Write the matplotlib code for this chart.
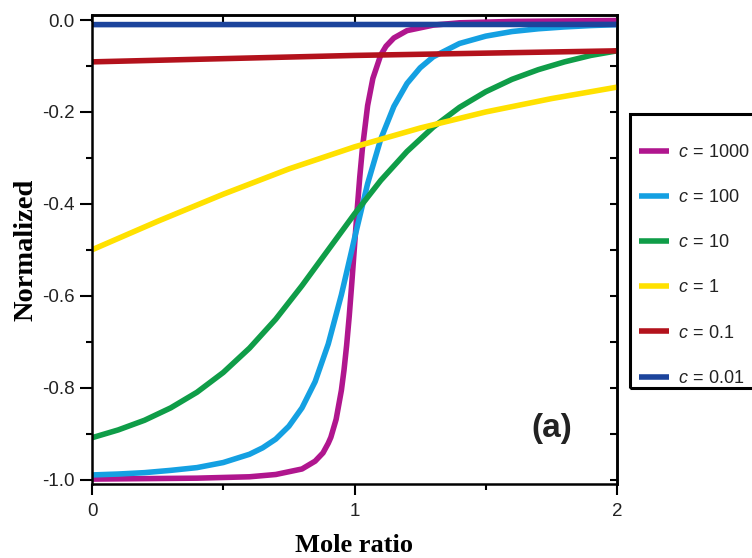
import matplotlib
matplotlib.use("Agg")
import matplotlib.pyplot as plt
from matplotlib.patches import Rectangle
from matplotlib.ticker import MultipleLocator

plt.rcParams['mathtext.fontset'] = 'custom'
plt.rcParams['mathtext.it'] = 'Liberation Sans:italic'
plt.rcParams['mathtext.rm'] = 'Liberation Sans'

# curves (mole ratio, normalized heat)
x_c1000 = [0, 0.2, 0.4, 0.6, 0.7, 0.8, 0.85, 0.88, 0.9, 0.91, 0.93, 0.95, 0.96, 0.97, 0.98,
           0.99, 1.0, 1.01, 1.02, 1.03, 1.05, 1.07, 1.1, 1.12, 1.15, 1.2, 1.3, 1.4, 1.6, 2.0]
y_c1000 = [-0.999, -0.998, -0.997, -0.994, -0.989, -0.977, -0.960, -0.942, -0.921, -0.908,
           -0.869, -0.806, -0.762, -0.708, -0.644, -0.570, -0.492, -0.414, -0.342, -0.280,
           -0.186, -0.127, -0.076, -0.057, -0.039, -0.023, -0.011, -0.006, -0.003, -0.001]

x_c100 = [0, 0.1, 0.2, 0.3, 0.4, 0.5, 0.6, 0.65, 0.7, 0.75, 0.8, 0.85, 0.9, 0.95, 0.99, 1.0,
          1.05, 1.1, 1.15, 1.2, 1.25, 1.3, 1.4, 1.5, 1.6, 1.7, 1.8, 1.9, 2.0]
y_c100 = [-0.990, -0.988, -0.985, -0.980, -0.974, -0.963, -0.945, -0.931, -0.912, -0.884,
          -0.844, -0.787, -0.705, -0.598, -0.500, -0.475, -0.356, -0.259, -0.188, -0.138,
          -0.104, -0.080, -0.051, -0.035, -0.025, -0.019, -0.015, -0.012, -0.010]

x_c10 = [0, 0.1, 0.2, 0.3, 0.4, 0.5, 0.6, 0.7, 0.8, 0.9, 1.0,
         1.1, 1.2, 1.3, 1.4, 1.5, 1.6, 1.7, 1.8, 1.9, 2.0]
y_c10 = [-0.909, -0.892, -0.871, -0.844, -0.810, -0.767, -0.714, -0.651, -0.578, -0.500, -0.422,
         -0.349, -0.286, -0.233, -0.190, -0.156, -0.129, -0.108, -0.091, -0.077, -0.067]

x_c1 = [0, 0.25, 0.5, 0.75, 1.0, 1.25, 1.5, 1.75, 2.0]
y_c1 = [-0.500, -0.438, -0.379, -0.324, -0.276, -0.235, -0.200, -0.171, -0.146]

x_c01 = [0, 0.5, 1.0, 1.5, 2.0]
y_c01 = [-0.091, -0.084, -0.077, -0.072, -0.067]

x_c001 = [0, 1.0, 2.0]
y_c001 = [-0.0099, -0.0097, -0.0095]

labels = ["1000", "100", "10", "1", "0.1", "0.01"]
colors = ["#B0168E", "#14A0E2", "#0F9D48", "#FFE100", "#B3121C", "#1C449C"]
series = [(x_c1000, y_c1000), (x_c100, y_c100), (x_c10, y_c10),
          (x_c1, y_c1), (x_c01, y_c01), (x_c001, y_c001)]

ytick_vals = [0, -0.2, -0.4, -0.6, -0.8, -1.0]
ytick_text = ["0.0", "-0.2", "-0.4", "-0.6", "-0.8", "-1.0"]

fig = plt.figure(figsize=(7.52, 5.58), dpi=100)
ax = fig.add_axes([92 / 752, 1 - 484 / 558, 525 / 752, 469 / 558])

for (xs, ys), lab, col in zip(series, labels, colors):
    ax.plot(xs, ys, color=col, lw=4.0, solid_capstyle='butt',
            label=r"$c\,=\,$" + lab)

ax.set_xlim(0, 2)
ax.set_ylim(-1.0097, 0.011)

for s in ax.spines.values():
    s.set_linewidth(1.8)

ax.xaxis.set_major_locator(MultipleLocator(1))
ax.xaxis.set_minor_locator(MultipleLocator(0.5))
ax.yaxis.set_minor_locator(MultipleLocator(0.1))
ax.set_yticks(ytick_vals)
ax.set_yticklabels(ytick_text)
ax.tick_params(which='major', direction='out', width=1.5,
               labelsize=13.5, labelcolor='#222222')
ax.tick_params(axis='y', which='major', length=9, pad=3.5)
ax.tick_params(axis='x', which='major', length=8, pad=6)
ax.tick_params(which='minor', direction='out', length=4, width=1.5)
for lab in ax.get_xticklabels() + ax.get_yticklabels():
    lab.set_fontfamily('Liberation Sans')

top = ax.secondary_xaxis('top')
top.set_xticks([0, 0.5, 1.0, 1.5, 2.0])
top.tick_params(direction='in', length=5, width=1.5, labeltop=False)
top.spines['top'].set_linewidth(1.8)
right = ax.secondary_yaxis('right')
right.set_yticks([0, -0.1, -0.2, -0.3, -0.4, -0.5, -0.6, -0.7, -0.8, -0.9, -1.0])
right.tick_params(direction='in', length=5, width=1.5, labelright=False)
right.spines['right'].set_linewidth(1.8)

fig.text(552 / 752, 1 - 429 / 558, "(a)", fontsize=24, fontweight='bold',
         fontfamily='Liberation Sans', color='#222222', ha='center', va='center')

fig.text(354 / 752, 1 - 545 / 558, "Mole ratio", fontsize=19, fontweight='bold',
         fontfamily='Liberation Serif', ha='center', va='center')
fig.text(26 / 752, 1 - 250 / 558, "Normalized", fontsize=20.5, fontweight='bold',
         fontfamily='Liberation Serif', ha='center', va='center', rotation=90)

leg = fig.legend(loc='upper left', bbox_to_anchor=(639 / 752, 1 - 144 / 558),
                 frameon=False, borderpad=0, borderaxespad=0, handlelength=1.65,
                 handletextpad=0.53, labelspacing=1.56,
                 prop={'family': 'Liberation Sans', 'size': 13})
for t in leg.get_texts():
    t.set_color('#222222')
fig.patches.append(Rectangle((630 / 752, 1 - 388 / 558), 130 / 752, 274 / 558,
                             transform=fig.transFigure, fill=False, lw=2.2,
                             edgecolor='black', clip_on=False))

fig.savefig("out.png", dpi=100)
